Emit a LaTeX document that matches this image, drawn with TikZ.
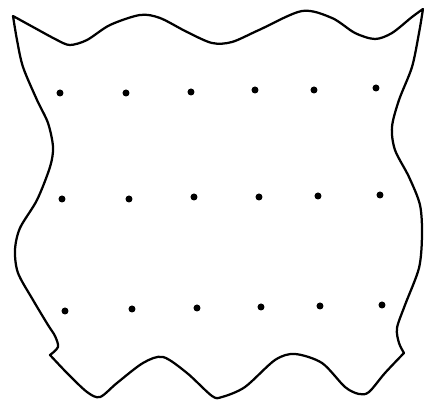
\documentclass[tikz,border=0pt]{standalone}
\usepackage{tikz}

\begin{document}
\begin{tikzpicture}[x=0.025cm, y=-0.025cm, line width=1.6pt, line join=round]
  \useasboundingbox (0,0) rectangle (424,400);

  \draw plot[smooth] coordinates {(13,16) (33,27) (57,40) (70,45) (87,40) (110,25) (140,15) (160,18) (187,32) (212,43) (232,42) (259,30) (302,11) (332,18) (355,33) (375,39) (392,33) (412,17) (423,9)}
     -- plot[smooth] coordinates {(423,9) (419,33) (412,67) (399,100) (392,127) (395,150) (409,177) (420,205) (422,235) (419,268) (405,305) (397,328) (399,343) (404,353)}
     -- plot[smooth] coordinates {(404,353) (385,373) (369,392) (359,394) (345,387) (322,363) (295,354) (275,360) (245,387) (222,397) (212,396) (187,373) (163,357) (143,363) (117,383) (100,397) (87,392) (67,373) (50,355)}
     -- plot[smooth] coordinates {(50,355) (58,347) (55,336) (48,325) (33,300) (18,273) (15,250) (20,228) (37,200) (50,167) (53,147) (48,123) (37,100) (23,67) (17,40) (13,16)}
     -- cycle;

  \foreach \x/\y in {60/93, 126/93, 191/92, 255/90, 314/90, 376/88,
                     62/199, 129/199, 194/197, 259/197, 318/196, 380/195,
                     65/311, 132/309, 197/308, 261/307, 320/306, 382/305}
    \fill (\x,\y) circle (3.5);
\end{tikzpicture}
\end{document}
